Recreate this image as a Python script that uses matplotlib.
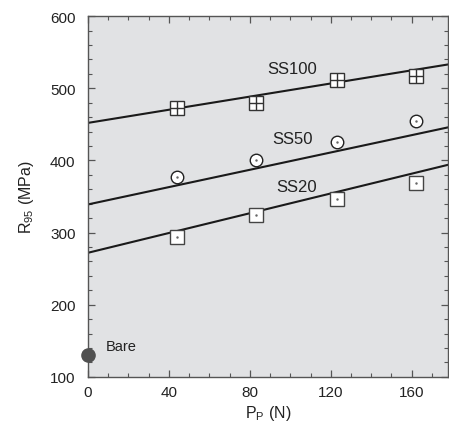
import numpy as np
import matplotlib.pyplot as plt
from matplotlib.ticker import MultipleLocator

plt.rcParams['font.family'] = ['Liberation Sans', 'DejaVu Sans']
plt.rcParams['mathtext.fontset'] = 'custom'
plt.rcParams['mathtext.rm'] = 'Liberation Sans'
plt.rcParams['mathtext.it'] = 'Liberation Sans'

# data
load = [44, 83, 123, 162]
ss100 = [472, 479, 511, 517]
ss50 = [377, 400, 425, 455]
ss20 = [294, 324, 347, 369]
bare_p = 0
bare_r = 130

# straight lines drawn in the figure (intercept, slope)
fit100 = (452, 0.455)
fit50 = (339, 0.600)
fit20 = (272, 0.685)

fig = plt.figure(figsize=(4.49, 4.27), dpi=100)
ax = fig.add_axes([0.196, 0.115, 0.802, 0.845])
ax.set_facecolor('#e1e2e4')

xx = np.array([0, 178])
for b, m in (fit100, fit50, fit20):
    ax.plot(xx, b + m * xx, color='#1a1a1a', lw=1.5, zorder=2)

ms = 9.5
# SS100 : square with a cross
ax.plot(load, ss100, 's', ms=ms, mfc='white', mec='#333333', mew=1.0, zorder=3)
ax.plot(load, ss100, '+', ms=ms, mec='#333333', mew=1.0, zorder=4)
# SS50 : circle with a dot
ax.plot(load, ss50, 'o', ms=9, mfc='white', mec='#222222', mew=1.0, zorder=3)
ax.plot(load, ss50, '.', ms=1.5, color='#666666', zorder=4)
# SS20 : square with a dot
ax.plot(load, ss20, 's', ms=ms, mfc='white', mec='#444444', mew=1.0, zorder=3)
ax.plot(load, ss20, '.', ms=1.5, color='#666666', zorder=4)
# bare
ax.plot(bare_p, bare_r, 'o', ms=9.5, color='#505050', clip_on=False, zorder=5)

ax.text(101, 527, 'SS100', fontsize=12, color='#222222', ha='center', va='center')
ax.text(101, 431, 'SS50', fontsize=12, color='#222222', ha='center', va='center')
ax.text(103, 364, 'SS20', fontsize=12, color='#222222', ha='center', va='center')
ax.text(9, 143, 'Bare', fontsize=10.5, color='#222222', ha='left', va='center')

ax.set_xlim(0, 178)
ax.set_ylim(100, 600)
ax.set_xticks([0, 40, 80, 120, 160])
ax.set_yticks([100, 200, 300, 400, 500, 600])
ax.xaxis.set_minor_locator(MultipleLocator(10))
ax.yaxis.set_minor_locator(MultipleLocator(20))
ax.tick_params(which='both', direction='in', top=True, right=True,
               color='#555555', labelsize=11, labelcolor='#222222')
ax.tick_params(which='major', length=5, width=0.9)
ax.tick_params(which='minor', length=3, width=0.8)
ax.tick_params(axis='x', pad=6)
ax.tick_params(axis='y', pad=9)
for s in ax.spines.values():
    s.set_color('#555555')
    s.set_linewidth(1.0)

ax.set_xlabel(r'P$_{\mathregular{P}}$ (N)', fontsize=11.5, color='#222222', labelpad=3)
ax.set_ylabel(r'R$_{\mathregular{95}}$ (MPa)', fontsize=11.5, color='#222222', labelpad=10)

fig.savefig('out.png', dpi=100)
